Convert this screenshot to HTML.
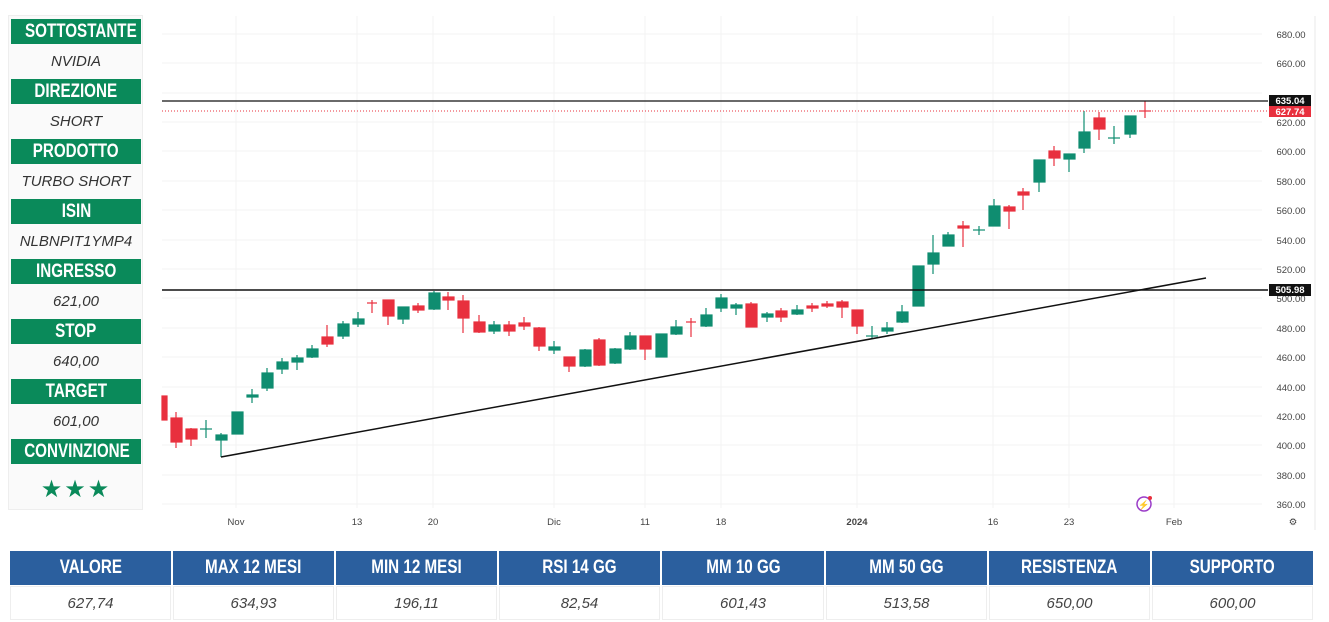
<!DOCTYPE html>
<html><head><meta charset="utf-8"><style>
body{margin:0;width:1329px;height:622px;background:#fff;overflow:hidden;font-family:"Liberation Sans",sans-serif;position:relative}
.lp{position:absolute;left:8px;top:15px;width:135px;height:495px;background:#fafafa;border:1px solid #eee;box-sizing:border-box}
.h{position:absolute;left:11px;width:130px;height:25px;background:#0a8a5a;color:#fff;font-weight:bold;font-size:19px;text-align:center;line-height:25px;white-space:nowrap}
.h span,.tb span{display:inline-block;transform:scaleX(0.8)}
.v{position:absolute;left:11px;width:130px;height:35px;color:#333;font-style:italic;font-size:15px;text-align:center;line-height:35px}
.tb{position:absolute;top:551px;height:34px;background:#2b5f9e;color:#fff;font-weight:bold;font-size:19px;text-align:center;line-height:34px;white-space:nowrap}
.tv{position:absolute;top:586px;height:34px;color:#444;font-style:italic;font-size:15px;text-align:center;line-height:34px;border:1px solid #eee;box-sizing:border-box}
</style></head><body>
<div class="lp"></div>
<div class="h" style="top:19px"><span>SOTTOSTANTE</span></div><div class="v" style="top:44px">NVIDIA</div>
<div class="h" style="top:79px"><span>DIREZIONE</span></div><div class="v" style="top:104px">SHORT</div>
<div class="h" style="top:139px"><span>PRODOTTO</span></div><div class="v" style="top:164px">TURBO SHORT</div>
<div class="h" style="top:199px"><span>ISIN</span></div><div class="v" style="top:224px">NLBNPIT1YMP4</div>
<div class="h" style="top:259px"><span>INGRESSO</span></div><div class="v" style="top:284px">621,00</div>
<div class="h" style="top:319px"><span>STOP</span></div><div class="v" style="top:344px">640,00</div>
<div class="h" style="top:379px"><span>TARGET</span></div><div class="v" style="top:404px">601,00</div>
<div class="h" style="top:439px"><span>CONVINZIONE</span></div><div class="v" style="top:472px;color:#0a8a5a;font-style:normal;font-size:24px;letter-spacing:2px">★★★</div>

<svg style="position:absolute;left:0;top:0" width="1329" height="545">
<g stroke="#f3f3f3" stroke-width="1">
<line x1="162" y1="34" x2="1262" y2="34"/><line x1="162" y1="63" x2="1262" y2="63"/><line x1="162" y1="93" x2="1262" y2="93"/><line x1="162" y1="122" x2="1262" y2="122"/><line x1="162" y1="151" x2="1262" y2="151"/><line x1="162" y1="181" x2="1262" y2="181"/><line x1="162" y1="210" x2="1262" y2="210"/><line x1="162" y1="240" x2="1262" y2="240"/><line x1="162" y1="269" x2="1262" y2="269"/><line x1="162" y1="298" x2="1262" y2="298"/><line x1="162" y1="328" x2="1262" y2="328"/><line x1="162" y1="357" x2="1262" y2="357"/><line x1="162" y1="387" x2="1262" y2="387"/><line x1="162" y1="416" x2="1262" y2="416"/><line x1="162" y1="445" x2="1262" y2="445"/><line x1="162" y1="475" x2="1262" y2="475"/><line x1="162" y1="504" x2="1262" y2="504"/>
<line x1="236" y1="16" x2="236" y2="508"/><line x1="357" y1="16" x2="357" y2="508"/><line x1="433" y1="16" x2="433" y2="508"/><line x1="554" y1="16" x2="554" y2="508"/><line x1="645" y1="16" x2="645" y2="508"/><line x1="721" y1="16" x2="721" y2="508"/><line x1="857" y1="16" x2="857" y2="508"/><line x1="993" y1="16" x2="993" y2="508"/><line x1="1069" y1="16" x2="1069" y2="508"/><line x1="1174" y1="16" x2="1174" y2="508"/>
</g>
<line x1="1315" y1="16" x2="1315" y2="530" stroke="#e8e8e8"/>
<g font-size="9.5" fill="#444" font-family="Liberation Sans,sans-serif" text-anchor="middle">
<text x="1291" y="38">680.00</text><text x="1291" y="67">660.00</text><text x="1291" y="126">620.00</text><text x="1291" y="155">600.00</text><text x="1291" y="185">580.00</text><text x="1291" y="214">560.00</text><text x="1291" y="244">540.00</text><text x="1291" y="273">520.00</text><text x="1291" y="302">500.00</text><text x="1291" y="332">480.00</text><text x="1291" y="361">460.00</text><text x="1291" y="391">440.00</text><text x="1291" y="420">420.00</text><text x="1291" y="449">400.00</text><text x="1291" y="479">380.00</text><text x="1291" y="508">360.00</text>
<text x="236" y="525">Nov</text><text x="357" y="525">13</text><text x="433" y="525">20</text><text x="554" y="525">Dic</text><text x="645" y="525">11</text><text x="721" y="525">18</text><text x="857" y="525" font-weight="bold">2024</text><text x="993" y="525">16</text><text x="1069" y="525">23</text><text x="1174" y="525">Feb</text><text x="1293" y="525">⚙</text>
</g>
<g stroke-width="1.2">
<g stroke="#e8303e" fill="#e8303e">
<rect x="162" y="396" width="5" height="24"/>
<line x1="176" y1="412" x2="176" y2="448"/><rect x="171" y="418" width="11" height="24"/>
<line x1="191" y1="428" x2="191" y2="446"/><rect x="186" y="429" width="11" height="10"/>
<line x1="327" y1="325" x2="327" y2="347"/><rect x="322" y="337" width="11" height="7"/>
<line x1="372" y1="300" x2="372" y2="313"/><line x1="367" y1="303" x2="377" y2="303"/>
<line x1="388" y1="300" x2="388" y2="325"/><rect x="383" y="300" width="11" height="16"/>
<line x1="418" y1="303" x2="418" y2="313"/><rect x="413" y="306" width="11" height="4"/>
<line x1="448" y1="292" x2="448" y2="310"/><rect x="443" y="297" width="11" height="3"/>
<line x1="463" y1="295" x2="463" y2="333"/><rect x="458" y="301" width="11" height="17"/>
<line x1="479" y1="315" x2="479" y2="333"/><rect x="474" y="322" width="11" height="10"/>
<line x1="509" y1="321" x2="509" y2="336"/><rect x="504" y="325" width="11" height="6"/>
<line x1="524" y1="317" x2="524" y2="330"/><rect x="519" y="323" width="11" height="3"/>
<line x1="539" y1="327" x2="539" y2="351"/><rect x="534" y="328" width="11" height="18"/>
<line x1="569" y1="357" x2="569" y2="372"/><rect x="564" y="357" width="11" height="9"/>
<line x1="599" y1="338" x2="599" y2="366"/><rect x="594" y="340" width="11" height="25"/>
<line x1="645" y1="336" x2="645" y2="360"/><rect x="640" y="336" width="11" height="13"/>
<line x1="691" y1="318" x2="691" y2="337"/><line x1="686" y1="322" x2="696" y2="322"/>
<line x1="751" y1="302" x2="751" y2="327"/><rect x="746" y="304" width="11" height="23"/>
<line x1="781" y1="308" x2="781" y2="322"/><rect x="776" y="311" width="11" height="6"/>
<line x1="812" y1="303" x2="812" y2="312"/><rect x="807" y="306" width="11" height="2"/>
<line x1="827" y1="301" x2="827" y2="308"/><rect x="822" y="304" width="11" height="2"/>
<line x1="842" y1="300" x2="842" y2="318"/><rect x="837" y="302" width="11" height="5"/>
<line x1="857" y1="310" x2="857" y2="334"/><rect x="852" y="310" width="11" height="16"/>
<line x1="963" y1="221" x2="963" y2="247"/><rect x="958" y="226" width="11" height="2"/>
<line x1="1009" y1="205" x2="1009" y2="229"/><rect x="1004" y="207" width="11" height="4"/>
<line x1="1023" y1="188" x2="1023" y2="210"/><rect x="1018" y="192" width="11" height="3"/>
<line x1="1054" y1="146" x2="1054" y2="166"/><rect x="1049" y="151" width="11" height="7"/>
<line x1="1099" y1="112" x2="1099" y2="140"/><rect x="1094" y="118" width="11" height="11"/>
<line x1="1145" y1="101" x2="1145" y2="118"/><line x1="1139" y1="111" x2="1151" y2="111"/>
</g>
<g stroke="#0f8d70" fill="#0f8d70">
<line x1="206" y1="420" x2="206" y2="438"/><line x1="200" y1="429" x2="212" y2="429"/>
<line x1="221" y1="433" x2="221" y2="457"/><rect x="216" y="435" width="11" height="5"/>
<rect x="232" y="412" width="11" height="22"/>
<line x1="252" y1="389" x2="252" y2="403"/><rect x="247" y="395" width="11" height="2"/>
<line x1="267" y1="368" x2="267" y2="391"/><rect x="262" y="373" width="11" height="15"/>
<line x1="282" y1="358" x2="282" y2="374"/><rect x="277" y="362" width="11" height="7"/>
<line x1="297" y1="355" x2="297" y2="370"/><rect x="292" y="358" width="11" height="4"/>
<line x1="312" y1="345" x2="312" y2="358"/><rect x="307" y="349" width="11" height="8"/>
<line x1="343" y1="321" x2="343" y2="339"/><rect x="338" y="324" width="11" height="12"/>
<line x1="358" y1="312" x2="358" y2="327"/><rect x="353" y="319" width="11" height="5"/>
<line x1="403" y1="307" x2="403" y2="324"/><rect x="398" y="307" width="11" height="12"/>
<line x1="434" y1="291" x2="434" y2="310"/><rect x="429" y="293" width="11" height="16"/>
<line x1="494" y1="321" x2="494" y2="334"/><rect x="489" y="325" width="11" height="6"/>
<line x1="554" y1="341" x2="554" y2="354"/><rect x="549" y="347" width="11" height="3"/>
<line x1="585" y1="349" x2="585" y2="367"/><rect x="580" y="350" width="11" height="16"/>
<line x1="615" y1="348" x2="615" y2="364"/><rect x="610" y="349" width="11" height="14"/>
<line x1="630" y1="332" x2="630" y2="350"/><rect x="625" y="336" width="11" height="13"/>
<rect x="656" y="334" width="11" height="23"/>
<line x1="676" y1="320" x2="676" y2="335"/><rect x="671" y="327" width="11" height="7"/>
<line x1="706" y1="308" x2="706" y2="327"/><rect x="701" y="315" width="11" height="11"/>
<line x1="721" y1="294" x2="721" y2="312"/><rect x="716" y="298" width="11" height="10"/>
<line x1="736" y1="303" x2="736" y2="315"/><rect x="731" y="305" width="11" height="3"/>
<line x1="767" y1="312" x2="767" y2="322"/><rect x="762" y="314" width="11" height="3"/>
<line x1="797" y1="305" x2="797" y2="315"/><rect x="792" y="310" width="11" height="4"/>
<line x1="872" y1="326" x2="872" y2="338"/><line x1="866" y1="336" x2="878" y2="336"/>
<line x1="887" y1="322" x2="887" y2="334"/><rect x="882" y="328" width="11" height="3"/>
<line x1="902" y1="305" x2="902" y2="323"/><rect x="897" y="312" width="11" height="10"/>
<rect x="913" y="266" width="11" height="40"/>
<line x1="933" y1="235" x2="933" y2="274"/><rect x="928" y="253" width="11" height="11"/>
<line x1="948" y1="232" x2="948" y2="246"/><rect x="943" y="235" width="11" height="11"/>
<line x1="979" y1="226" x2="979" y2="235"/><line x1="973" y1="230" x2="985" y2="230"/>
<line x1="994" y1="199" x2="994" y2="226"/><rect x="989" y="206" width="11" height="20"/>
<line x1="1039" y1="160" x2="1039" y2="192"/><rect x="1034" y="160" width="11" height="22"/>
<line x1="1069" y1="154" x2="1069" y2="172"/><rect x="1064" y="154" width="11" height="5"/>
<line x1="1084" y1="111" x2="1084" y2="153"/><rect x="1079" y="132" width="11" height="16"/>
<line x1="1114" y1="126" x2="1114" y2="144"/><line x1="1108" y1="138" x2="1120" y2="138"/>
<line x1="1130" y1="116" x2="1130" y2="138"/><rect x="1125" y="116" width="11" height="18"/>
</g></g>
<line x1="162" y1="101" x2="1268" y2="101" stroke="#111" stroke-width="1.3"/>
<line x1="162" y1="111" x2="1268" y2="111" stroke="#e8303e" stroke-width="1" stroke-dasharray="1,2"/>
<line x1="162" y1="290" x2="1268" y2="290" stroke="#111" stroke-width="1.5"/>
<line x1="221" y1="457" x2="1206" y2="278" stroke="#111" stroke-width="1.5"/>
<rect x="1269" y="95" width="42" height="11" fill="#111"/><text x="1290" y="104" font-size="9.5" fill="#fff" text-anchor="middle" font-weight="bold">635.04</text>
<rect x="1269" y="106" width="42" height="11" fill="#e8303e"/><text x="1290" y="115" font-size="9.5" fill="#fff" text-anchor="middle" font-weight="bold">627.74</text>
<rect x="1269" y="284" width="42" height="12" fill="#111"/><text x="1290" y="293" font-size="9.5" fill="#fff" text-anchor="middle" font-weight="bold">505.98</text>
<circle cx="1144" cy="504" r="7" fill="none" stroke="#9b3cc8" stroke-width="1.5"/><text x="1144" y="508" font-size="9" fill="#9b3cc8" text-anchor="middle">⚡</text><circle cx="1150" cy="498" r="2" fill="#e8303e"/>
</svg>

<div class="tb" style="left:10px;width:161px"><span>VALORE</span></div><div class="tv" style="left:10px;width:161px">627,74</div>
<div class="tb" style="left:173px;width:161px"><span>MAX 12 MESI</span></div><div class="tv" style="left:173px;width:161px">634,93</div>
<div class="tb" style="left:336px;width:161px"><span>MIN 12 MESI</span></div><div class="tv" style="left:336px;width:161px">196,11</div>
<div class="tb" style="left:499px;width:161px"><span>RSI 14 GG</span></div><div class="tv" style="left:499px;width:161px">82,54</div>
<div class="tb" style="left:662px;width:162px"><span>MM 10 GG</span></div><div class="tv" style="left:662px;width:162px">601,43</div>
<div class="tb" style="left:826px;width:161px"><span>MM 50 GG</span></div><div class="tv" style="left:826px;width:161px">513,58</div>
<div class="tb" style="left:989px;width:161px"><span>RESISTENZA</span></div><div class="tv" style="left:989px;width:161px">650,00</div>
<div class="tb" style="left:1152px;width:161px"><span>SUPPORTO</span></div><div class="tv" style="left:1152px;width:161px">600,00</div>
</body></html>
